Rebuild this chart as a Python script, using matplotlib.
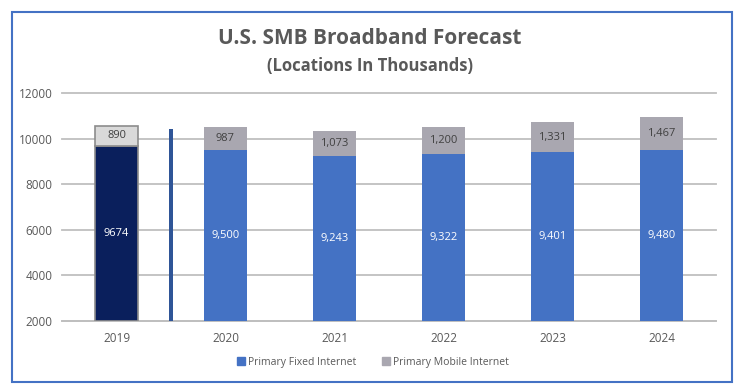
import matplotlib.pyplot as plt
from matplotlib.patches import Rectangle
from matplotlib.lines import Line2D

plt.rcParams['font.family'] = ['Open Sans', 'DejaVu Sans']

# data
years = ["2019", "2020", "2021", "2022", "2023", "2024"]
fixed = [9674, 9500, 9243, 9322, 9401, 9480]
mobile = [890, 987, 1073, 1200, 1331, 1467]
fixed_labels = ["9674", "9,500", "9,243", "9,322", "9,401", "9,480"]
mobile_labels = ["890", "987", "1,073", "1,200", "1,331", "1,467"]
divider_height = 10400

BASE = 2000
W, H = 738, 387
GRAY_TXT = "#595959"

fig = plt.figure(figsize=(W / 100, H / 100), dpi=100)
ax = fig.add_axes([62 / W, 1 - 321 / H, (716 - 62) / W, (321 - 93) / H])

x = list(range(len(years)))
fixed_colors = ["#0A1F5C"] + ["#4472C4"] * 5
mobile_colors = ["#D9D9D9"] + ["#A9A7B0"] * 5
edge_colors = ["#8C8C8C"] + ["none"] * 5

for i in x:
    ax.bar(i, fixed[i] - BASE, bottom=BASE, width=0.40, color=fixed_colors[i],
           edgecolor=edge_colors[i], linewidth=1.2, zorder=3)
    ax.bar(i, mobile[i], bottom=fixed[i], width=0.40, color=mobile_colors[i],
           edgecolor=edge_colors[i], linewidth=1.2, zorder=3)
    ax.text(i, (BASE + fixed[i]) / 2, fixed_labels[i], ha="center", va="center",
            color="white", fontsize=8, zorder=4)
    ax.text(i, fixed[i] + mobile[i] / 2, mobile_labels[i], ha="center", va="center",
            color="#404040", fontsize=8, zorder=4)

# separator between actual and forecast
ax.bar(0.5, divider_height - BASE, bottom=BASE, width=0.035, color="#2F5597", zorder=3)

ax.set_xlim(-0.5, len(years) - 0.5)
ax.set_ylim(BASE, 12000)
ax.set_yticks(range(2000, 12001, 2000))
ax.set_xticks(x)
ax.set_xticklabels(years)
ax.tick_params(length=0, colors=GRAY_TXT, labelsize=8.5)
ax.tick_params(axis="x", pad=8)
ax.tick_params(axis="y", pad=7)
ax.grid(axis="y", color="#BFBFBF", linewidth=1.3, zorder=0)
for gl in ax.get_ygridlines():
    gl.set_clip_on(False)
for s in ["top", "right", "left"]:
    ax.spines[s].set_visible(False)
ax.spines["bottom"].set_color("#BFBFBF")
ax.spines["bottom"].set_linewidth(1.3)

fig.text(370 / W, 1 - 38 / H, "U.S. SMB Broadband Forecast", ha="center", va="center",
         fontsize=15, fontweight="bold", color=GRAY_TXT)
fig.text(370 / W, 1 - 66 / H, "(Locations In Thousands)", ha="center", va="center",
         fontsize=12, fontweight="bold", color=GRAY_TXT)

handles = [Line2D([], [], marker="s", linestyle="none", markersize=5.5, color="#4472C4"),
           Line2D([], [], marker="s", linestyle="none", markersize=5.5, color="#A9A7B0")]
fig.legend(handles, ["Primary Fixed Internet", "Primary Mobile Internet"],
           loc="center", bbox_to_anchor=(373 / W, 1 - 362 / H), ncol=2, frameon=False,
           fontsize=7.5, labelcolor=GRAY_TXT, handlelength=0.8, handletextpad=0.3,
           columnspacing=2.4)

# outer frame
fig.patches.append(Rectangle((12.5 / W, 1 - 381.5 / H), 719 / W, 370 / H,
                             transform=fig.transFigure, fill=False,
                             edgecolor="#4472C4", linewidth=1.5))

fig.savefig("out.png", dpi=100)
